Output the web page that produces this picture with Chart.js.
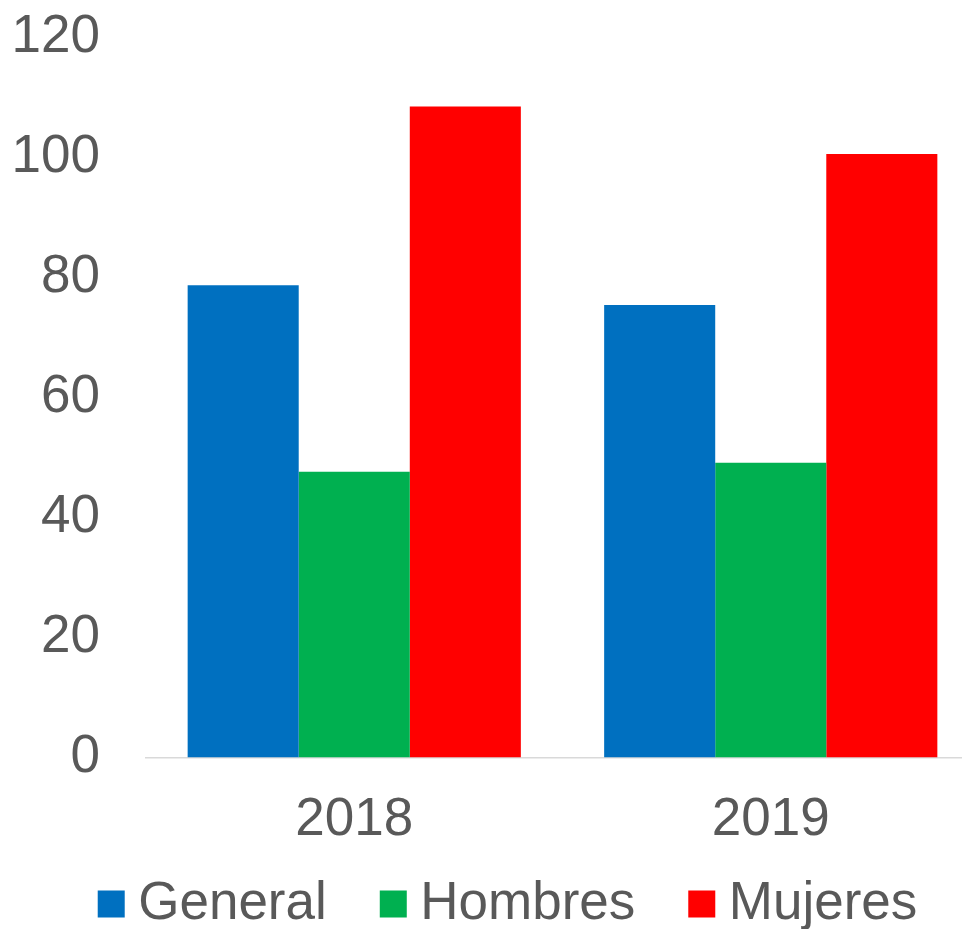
<!DOCTYPE html>
<html>
<head>
    <title>General, Hombres, Mujeres</title>
    <script src="https://cdn.jsdelivr.net/npm/chart.js"></script>
    <style>
        html, body { margin: 0; padding: 0; overflow: hidden; background: #fff; }
        #wrap { width: 980px; height: 929px; }
    </style>
</head>
<body>
    <div id="wrap"><canvas id="grafica" width="980" height="929"></canvas></div>

    <script>
        // datos
        var anios = ['2018', '2019'];
        var general = [78.7, 75.4];
        var hombres = [47.6, 49.1];
        var mujeres = [108.5, 100.6];
        var ticksY = [0, 20, 40, 60, 80, 100, 120];

        var gris = '#595959';
        var fuente = '"Liberation Sans", Arial, sans-serif';

        // corre la leyenda para que quede donde esta en el original
        var moverLeyenda = {
            id: 'moverLeyenda',
            afterLayout: function (chart) {
                var l = chart.legend;
                l.left += 18.5;
                l.right += 18.5;
                l.top = 904 - 66 - 26.5;
                l.bottom = chart.height;
            }
        };

        var ctx = document.getElementById('grafica').getContext('2d');

        var chart = new Chart(ctx, {
            type: 'bar',
            data: {
                labels: anios,
                datasets: [
                    { label: 'General', data: general, backgroundColor: '#0070C0' },
                    { label: 'Hombres', data: hombres, backgroundColor: '#00B050' },
                    { label: 'Mujeres', data: mujeres, backgroundColor: '#FF0000' }
                ]
            },
            plugins: [moverLeyenda],
            options: {
                responsive: false,
                animation: false,
                layout: { padding: { top: 37.5, left: 12, right: 1, bottom: 0 } },
                datasets: {
                    bar: { categoryPercentage: 0.8, barPercentage: 1.0 }
                },
                scales: {
                    x: {
                        grid: { display: false, drawTicks: false },
                        border: { display: true, color: '#D9D9D9', width: 1.5 },
                        ticks: { color: gris, font: { family: fuente, size: 53 }, padding: 31 }
                    },
                    y: {
                        min: 0,
                        max: 120,
                        afterFit: function (scale) {
                            scale.width = 134;
                            scale.paddingTop = 0;
                            scale.paddingBottom = 0;
                        },
                        afterBuildTicks: function (scale) {
                            scale.ticks = ticksY.map(function (v) { return { value: v }; });
                        },
                        grid: { display: false, drawTicks: false },
                        border: { display: false },
                        ticks: { color: gris, font: { family: fuente, size: 53 }, padding: 46 }
                    }
                },
                plugins: {
                    tooltip: { enabled: false },
                    legend: {
                        position: 'bottom',
                        maxHeight: 46,
                        labels: {
                            color: gris,
                            font: { family: fuente, size: 53 },
                            usePointStyle: true,
                            pointStyle: 'rect',
                            boxWidth: 1,
                            boxHeight: 27,
                            padding: 66
                        }
                    }
                }
            }
        });
    </script>
</body>
</html>
